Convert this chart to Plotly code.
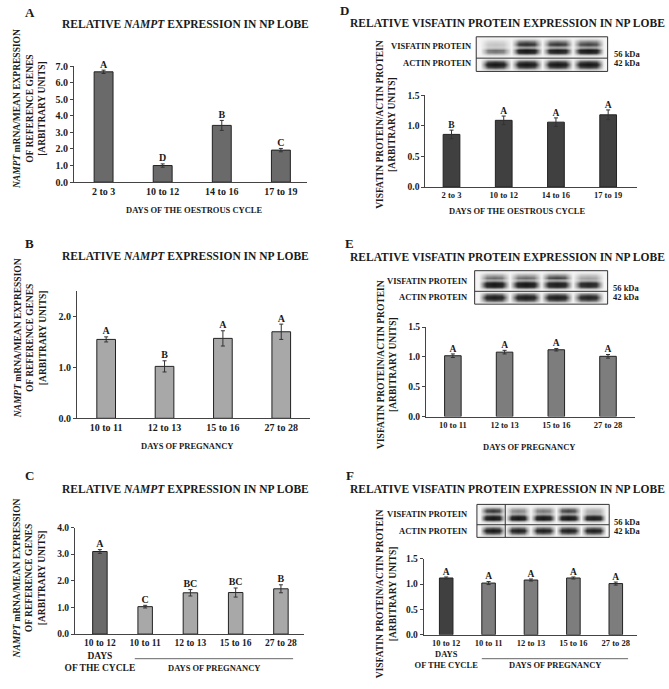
import plotly.graph_objects as go

W, H = 669, 689
FONT = "Liberation Serif"
INK = "#1a1a1a"

# ---------------- data ----------------
a_cats = ["2 to 3", "10 to 12", "14 to 16", "17 to 19"]
a_vals = [6.65, 1.00, 3.42, 1.93]
a_errs = [0.10, 0.10, 0.30, 0.10]
a_lett = ["A", "D", "B", "C"]

b_cats = ["10 to 11", "12 to 13", "15 to 16", "27 to 28"]
b_vals = [1.55, 1.02, 1.57, 1.70]
b_errs = [0.05, 0.11, 0.15, 0.15]
b_lett = ["A", "B", "A", "A"]

c_cats = ["10 to 12<br>DAYS<br>OF THE CYCLE", "10 to 11", "12 to 13", "15 to 16", "27 to 28"]
c_vals = [3.10, 1.03, 1.55, 1.56, 1.70]
c_errs = [0.07, 0.05, 0.12, 0.17, 0.15]
c_lett = ["A", "C", "BC", "BC", "B"]

d_cats = ["2 to 3", "10 to 12", "14 to 16", "17 to 19"]
d_vals = [0.86, 1.09, 1.06, 1.18]
d_errs = [0.07, 0.07, 0.07, 0.08]
d_lett = ["B", "A", "A", "A"]

e_cats = ["10 to 11", "12 to 13", "15 to 16", "27 to 28"]
e_vals = [1.02, 1.08, 1.12, 1.01]
e_errs = [0.03, 0.03, 0.02, 0.03]
e_lett = ["A", "A", "A", "A"]

f_cats = ["10 to 12<br>DAYS<br>OF THE CYCLE", "10 to 11", "12 to 13", "15 to 16", "27 to 28"]
f_vals = [1.12, 1.02, 1.08, 1.12, 1.01]
f_errs = [0.02, 0.03, 0.02, 0.02, 0.03]
f_lett = ["A", "A", "A", "A", "A"]

# western blot band intensities (0 = none, 1 = black), per lane
d_blot_upper = [0.20, 0.80, 0.75, 0.70]
d_blot_lower = [0.50, 0.95, 0.90, 0.95]
d_blot_actin = [0.95, 0.95, 0.95, 0.95]
e_blot_upper = [0.55, 0.55, 0.70, 0.35]
e_blot_lower = [0.95, 0.95, 0.90, 0.85]
e_blot_actin = [0.90, 0.90, 0.90, 0.85]
f_blot_upper = [0.75, 0.45, 0.50, 0.70, 0.30]
f_blot_lower = [0.95, 0.95, 0.95, 0.95, 0.90]
f_blot_actin = [0.95, 0.90, 0.90, 0.90, 0.90]

# ---------------- helpers ----------------
def px_x(p):
    return p / W

def px_y(p):
    return 1 - p / H

fig = go.Figure()
layout = dict(width=W, height=H, margin=dict(l=0, r=0, t=0, b=0),
              paper_bgcolor="white", plot_bgcolor="white", showlegend=False)
annotations = []
shapes = []


def font(size, weight="bold", color=INK):
    return dict(family=FONT, size=size, color=color, weight=weight)


def bar_panel(idx, cats, vals, errs, letters, colors, xpx, ypx, xrange, yrange, dtick,
              xts, yts, lts, width=0.32):
    xa = "x" if idx == 1 else f"x{idx}"
    ya = "y" if idx == 1 else f"y{idx}"
    fig.add_trace(go.Bar(
        x=cats, y=vals, width=width, xaxis=xa, yaxis=ya,
        marker=dict(color=colors, line=dict(color="#222", width=1)),
        error_y=dict(type="data", array=errs, color="#333", thickness=1, width=2),
        hoverinfo="skip"))
    fig.add_trace(go.Scatter(
        x=cats, y=[v + e for v, e in zip(vals, errs)], xaxis=xa, yaxis=ya,
        mode="text", text=letters, textposition="top center",
        textfont=font(lts), hoverinfo="skip", cliponaxis=False))
    kx = "xaxis" if idx == 1 else f"xaxis{idx}"
    ky = "yaxis" if idx == 1 else f"yaxis{idx}"
    layout[kx] = dict(domain=[px_x(xpx[0]), px_x(xpx[1])], anchor=ya, type="category",
                      range=xrange, showline=True, linecolor="#444", linewidth=1,
                      ticks="", showgrid=False, zeroline=False, tickangle=0,
                      tickfont=font(xts), fixedrange=True)
    layout[ky] = dict(domain=[px_y(ypx[1]), px_y(ypx[0])], anchor=xa, range=yrange,
                      dtick=dtick, tick0=0, tickformat=".1f", showline=True,
                      linecolor="#444", linewidth=1, ticks="outside", ticklen=3,
                      tickcolor="#444", showgrid=False, zeroline=False,
                      tickfont=font(yts), fixedrange=True)


def blot(idx, upper, lower, actin, xpx, ypx, vdiv=None):
    n = len(upper)
    rows_profile = [
        ("u", 0.05), ("u", 0.6), ("u", 0.95), ("l", 0.3), ("l", 0.95), ("l", 0.9),
        ("l", 0.1), ("z", 0.0), ("a", 0.6), ("a", 1.0), ("a", 0.65), ("a", 0.05)]
    z = []
    for kind, f in rows_profile:
        row = [0.0]
        for i in range(n):
            v = {"u": upper[i], "l": lower[i], "a": actin[i], "z": 0.0}[kind] * f
            row += [0.9 * v, v, 0.9 * v, 0.0]
        z.append(row)
    ncols = len(z[0])
    xa, ya = f"x{idx}", f"y{idx}"
    fig.add_trace(go.Heatmap(
        z=z, xaxis=xa, yaxis=ya, zmin=0, zmax=1, zsmooth="best", showscale=False,
        colorscale=[[0, "#f4f4f4"], [0.3, "#a8a8a8"], [0.65, "#3a3a3a"], [1, "#080808"]],
        hoverinfo="skip"))
    layout[f"xaxis{idx}"] = dict(domain=[px_x(xpx[0]), px_x(xpx[1])], anchor=ya,
                                 range=[-0.5, ncols - 0.5], visible=False, fixedrange=True)
    layout[f"yaxis{idx}"] = dict(domain=[px_y(ypx[1]), px_y(ypx[0])], anchor=xa,
                                 range=[11.5, -0.5], visible=False, fixedrange=True)
    shapes.append(dict(type="rect", xref=f"{xa} domain", yref=f"{ya} domain",
                       x0=0, x1=1, y0=0, y1=1, line=dict(color="#333", width=1)))
    shapes.append(dict(type="line", xref=f"{xa} domain", yref=ya, x0=0, x1=1,
                       y0=6.9, y1=6.9, line=dict(color="#333", width=1)))
    if vdiv is not None:
        shapes.append(dict(type="line", xref=xa, yref=f"{ya} domain", x0=vdiv, x1=vdiv,
                           y0=0, y1=1, line=dict(color="#333", width=1)))


def ann(text, x, y, size, xanchor="center", yanchor="middle", angle=0, weight="bold"):
    annotations.append(dict(text=text, x=px_x(x), y=px_y(y), xref="paper", yref="paper",
                            showarrow=False, xanchor=xanchor, yanchor=yanchor,
                            textangle=angle, font=font(size, weight)))


# ---------------- panels ----------------
DARK_A = "#6a6a6a"
LIGHT = "#a8a8a8"
DARK_D = "#404040"
MID = "#7d7d7d"

bar_panel(1, a_cats, a_vals, a_errs, a_lett, [DARK_A] * 4,
          (65, 302), (62, 180), [-0.5, 3.45], [0, 7], 1, 10, 10, 10)
bar_panel(2, b_cats, b_vals, b_errs, b_lett, [LIGHT] * 4,
          (68, 305), (290.7, 420), [-0.5, 3.5], [0, 2.5], 1, 10, 10, 10)
bar_panel(3, c_cats, c_vals, c_errs, c_lett, [DARK_A] + [LIGHT] * 4,
          (66, 298), (531, 639.3), [-0.55, 4.5], [0, 4], 1, 9.5, 9.5, 10)
bar_panel(4, d_cats, d_vals, d_errs, d_lett, [DARK_D] * 4,
          (421.7, 636.4), (91.7, 185), [-0.5, 3.55], [0, 1.5], 0.5, 8.5, 9.5, 9.5)
bar_panel(5, e_cats, e_vals, e_errs, e_lett, [MID] * 4,
          (422.3, 634.9), (327.3, 418.3), [-0.52, 3.53], [0, 1.5], 0.5, 8.5, 9.5, 9.5)
bar_panel(6, f_cats, f_vals, f_errs, f_lett, [DARK_D] + [MID] * 4,
          (420, 636.5), (562.7, 640), [-0.53, 4.5], [0, 1.5], 0.5, 8.5, 9.5, 9.5)

blot(7, d_blot_upper, d_blot_lower, d_blot_actin, (473.3, 606.7), (32.3, 67.5))
blot(8, e_blot_upper, e_blot_lower, e_blot_actin, (471.7, 606.7), (270, 304))
blot(9, f_blot_upper, f_blot_lower, f_blot_actin, (474, 608.3), (507.5, 541), vdiv=4)

# pregnancy under-lines (C, F)
shapes.append(dict(type="line", xref="x3", yref="paper", x0=0.77, x1=4.27,
                   y0=px_y(664.3), y1=px_y(664.3), line=dict(color="#666", width=1)))
shapes.append(dict(type="line", xref="x6", yref="paper", x0=0.84, x1=4.29,
                   y0=px_y(664.3), y1=px_y(664.3), line=dict(color="#666", width=1)))

# ---------------- texts ----------------
T_N = "RELATIVE <i>NAMPT</i> EXPRESSION IN NP LOBE"
T_V = "RELATIVE VISFATIN PROTEIN EXPRESSION IN NP LOBE"
YT_N = "<i>NAMPT</i> mRNA/MEAN EXPRESSION<br>OF REFERENCE GENES<br>[ARBITRARY UNITS]"
YT_V = "VISFATIN PROTEIN/ACTIN PROTEIN<br>[ARBITRARY UNITS]"

for letter, x, y in [("A", 20, 8), ("B", 20, 242), ("C", 20, 478),
                     ("D", 340, 6), ("E", 345, 242), ("F", 345, 478)]:
    ann(letter, x, y, 13)

for t, x, y in [(T_N, 178, 19), (T_N, 178, 255), (T_N, 178, 491.7),
                (T_V, 505, 18.3), (T_V, 505, 256), (T_V, 505, 491.7)]:
    ann(t, x, y, 11.5)

for t, x, y in [(YT_N, 20, 106), (YT_N, 21, 339), (YT_N, 20, 583),
                (YT_V, 381.5, 121), (YT_V, 382.5, 365), (YT_V, 382.5, 598)]:
    ann(t, x, y, 9.5, angle=-90)

for t, x, y in [("DAYS OF THE OESTROUS CYCLE", 187, 208),
                ("DAYS OF PREGNANCY", 180, 447.7),
                ("DAYS OF PREGNANCY", 206.7, 673.3),
                ("DAYS OF THE OESTROUS CYCLE", 515, 209.3),
                ("DAYS OF PREGNANCY", 526.7, 449),
                ("DAYS OF PREGNANCY", 553.3, 671)]:
    ann(t, x, y, 8.5)

for (vy, ay, kx) in [(41.7, 59.3, 471), (280, 296.7, 467), (517.7, 535, 467)]:
    ann("VISFATIN PROTEIN", kx, vy, 8.5, xanchor="right")
    ann("ACTIN PROTEIN", kx, ay, 8.5, xanchor="right")

for (x, y56, y42) in [(610.7, 49.3, 59.3), (610, 287.3, 296.7), (611, 525, 535)]:
    ann("56 kDa", x, y56, 8.5, xanchor="left")
    ann("42 kDa", x, y42, 8.5, xanchor="left")

layout["annotations"] = annotations
layout["shapes"] = shapes
fig.update_layout(**layout)
fig.write_html(
    "out.html",
    config={"displayModeBar": False, "staticPlot": True},
    post_script=("document.body.style.margin='0px';"
                 "document.documentElement.style.overflow='hidden';"
                 "document.body.style.overflow='hidden';"))
